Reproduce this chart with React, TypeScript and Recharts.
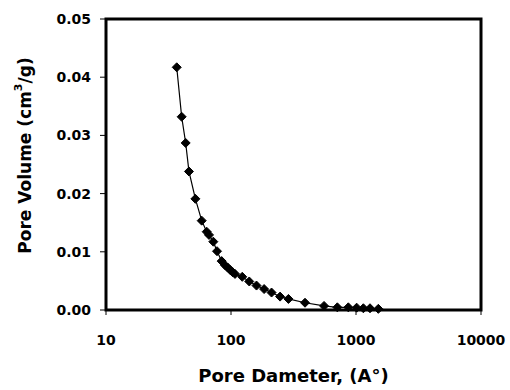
import { LineChart, Line, XAxis, YAxis, ReferenceArea, Label } from 'recharts';

// pore diameter (A) and pore volume (cm3/g)
const diameters = [
  36.8, 40.3, 43.4, 46.1, 51.9, 58.3, 63.9, 66.7, 72.2, 77.3, 84.2, 89.5, 94,
  98.2, 103, 107.7, 123, 140, 160, 184, 211, 247, 288, 391, 555, 709, 868,
  1012, 1145, 1294, 1509,
];
const volumes = [
  0.0417, 0.0332, 0.0287, 0.0238, 0.0191, 0.01535, 0.01345, 0.0129, 0.01174,
  0.0101, 0.0084, 0.0077, 0.0073, 0.0069, 0.0065, 0.0062, 0.0057, 0.0049,
  0.0042, 0.0036, 0.003, 0.0023, 0.0019, 0.00125, 0.0007, 0.00046, 0.00046,
  0.0004, 0.0003, 0.0003, 0.0002,
];
const xTicks = [10, 100, 1000, 10000];
const yTicks = [0, 0.01, 0.02, 0.03, 0.04, 0.05];

const FONT = '"DejaVu Sans", Verdana, sans-serif';

const data = diameters.map((d, i) => ({ d, v: volumes[i] }));

const Diamond = (props: any) => {
  const { cx, cy } = props;
  if (cx == null || cy == null) return null;
  const r = 4.5;
  return (
    <polygon
      points={`${cx},${cy - r} ${cx + r},${cy} ${cx},${cy + r} ${cx - r},${cy}`}
      fill="#000"
      stroke="#000"
    />
  );
};

const YTitle = (props: any) => {
  const { viewBox } = props;
  const cx = 25;
  const cy = viewBox.y + viewBox.height / 2 - 9;
  return (
    <text
      x={cx}
      y={cy}
      transform={`rotate(-90, ${cx}, ${cy})`}
      textAnchor="middle"
      dominantBaseline="central"
      fontFamily={FONT}
      fontWeight="bold"
      fontSize={17}
      fill="#000"
    >
      Pore Volume (cm
      <tspan fontSize={11} dy={-7}>
        3
      </tspan>
      <tspan dy={7}>/g)</tspan>
    </text>
  );
};

export default function App() {
  return (
    <div style={{ position: 'absolute', left: 0, top: 0, background: '#fff' }}>
      <LineChart
        width={510}
        height={390}
        data={data}
        margin={{ top: 19, right: 29, bottom: 0, left: 46 }}
      >
        <XAxis
          dataKey="d"
          type="number"
          scale="log"
          domain={[10, 10000]}
          ticks={xTicks}
          allowDataOverflow
          height={80}
          axisLine={false}
          tickLine={{ stroke: '#000', strokeWidth: 1 }}
          tickSize={5}
          tickMargin={20}
          tick={{ fill: '#000', fontSize: 14, fontWeight: 'bold', fontFamily: FONT }}
        >
          <Label
            value="Pore Dameter, (A°)"
            position="insideBottom"
            offset={8}
            fill="#000"
            fontSize={18}
            fontWeight="bold"
            fontFamily={FONT}
          />
        </XAxis>
        <YAxis
          type="number"
          domain={[0, 0.05]}
          ticks={yTicks}
          width={60}
          axisLine={false}
          tickLine={{ stroke: '#000', strokeWidth: 1 }}
          tickSize={6}
          tickMargin={9}
          tickFormatter={(v: number) => v.toFixed(2)}
          tick={{ fill: '#000', fontSize: 14, fontWeight: 'bold', fontFamily: FONT }}
        >
          <Label content={<YTitle />} />
        </YAxis>
        <ReferenceArea
          x1={10}
          x2={10000}
          y1={0}
          y2={0.05}
          fill="none"
          stroke="#000"
          strokeWidth={3}
          fillOpacity={0}
          ifOverflow="visible"
        />
        <Line
          dataKey="v"
          stroke="#000"
          strokeWidth={1.2}
          dot={<Diamond />}
          activeDot={false}
          isAnimationActive={false}
        />
      </LineChart>
    </div>
  );
}
